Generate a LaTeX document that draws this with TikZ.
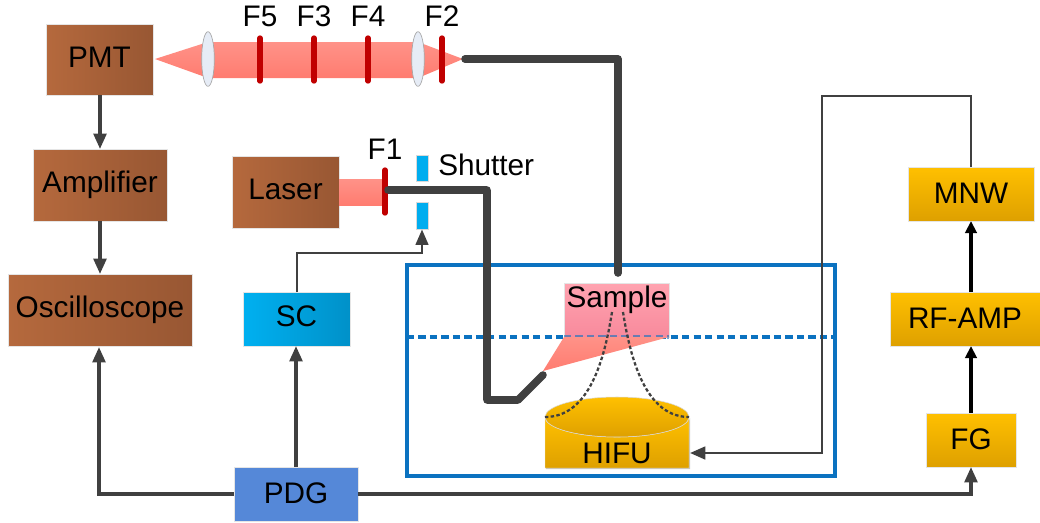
\documentclass[tikz,border=0pt]{standalone}
\usepackage{fontspec}
\setmainfont{Liberation Sans}
\usetikzlibrary{arrows.meta,shapes.geometric,shadows,calc}
\definecolor{wire}{HTML}{404040}
\definecolor{frame}{HTML}{0B72C0}
\definecolor{beam1}{HTML}{FF9288}
\definecolor{beam2}{HTML}{FF7C70}
\definecolor{filt}{HTML}{C00000}
\definecolor{brown1}{HTML}{B5693D}
\definecolor{brown2}{HTML}{985733}
\definecolor{gold1}{HTML}{FFC000}
\definecolor{gold2}{HTML}{DEA000}
\definecolor{sky1}{HTML}{00B0F0}
\definecolor{sky2}{HTML}{0091C9}
\definecolor{pdgblue}{HTML}{5588D8}
\definecolor{pink1}{HTML}{FFA3B0}
\definecolor{pink2}{HTML}{F88A9C}
\definecolor{lensc}{HTML}{E6ECF6}
\definecolor{shutc}{HTML}{00ADEF}
\newcommand{\pxbox}[7][]{%
  \pgfmathsetmacro{\pxw}{(#5-#3)*0.75}%
  \pgfmathsetmacro{\pxh}{(#6-#4)*0.75}%
  \pgfmathsetmacro{\pxcx}{(#3+#5)/2}%
  \pgfmathsetmacro{\pxcy}{(#4+#6)/2}%
  \node[#1,minimum width=\pxw pt,minimum height=\pxh pt] (#2) at (\pxcx,\pxcy) {#7};}
\tikzset{
  x=0.75pt,y=-0.75pt,
  softshadow/.style={drop shadow={shadow xshift=0.8pt,shadow yshift=-0.8pt,opacity=0.22,fill=black}},
  base/.style={inner sep=0pt,outer sep=0pt,font=\fontsize{22.3}{24}\selectfont,draw=black!10,line width=0.3pt,text height=16pt,softshadow},
  brownbox/.style={base,text depth=4.5pt,left color=brown1,right color=brown2},
  goldbox/.style={base,text depth=2.25pt,top color=gold1,bottom color=gold2},
  skybox/.style={base,text depth=4.5pt,left color=sky1,right color=sky2},
  bluebox/.style={base,text depth=2.25pt,fill=pdgblue},
  samplebox/.style={base,top color=pink1,bottom color=pink2},
  conn/.style={draw=wire,line width=2.5pt,-{Triangle[length=11.5pt,width=9.5pt]}},
  thin conn/.style={draw=wire,line width=1.6pt,-{Triangle[length=11.5pt,width=9.5pt]}},
  sig/.style={draw=black,line width=2.5pt,-{Triangle[length=9pt,width=8.5pt]}},
  fiber/.style={draw=wire,line width=5.7pt,line cap=round,line join=round},
  filter/.style={draw=filt,line width=4pt,line cap=round},
  lens/.style={ellipse,draw=black!35,line width=0.5pt,fill=lensc,minimum width=9.5pt,minimum height=41pt,inner sep=0pt},
  beam/.style={top color=beam1,bottom color=beam2,draw=none},
  lab/.style={font=\fontsize{22.3}{24}\selectfont,inner sep=0pt,text height=16pt,text depth=0pt},
  shut/.style={fill=shutc,draw=black!15,line width=0.3pt},
  focus/.style={draw=wire,line width=1.7pt,dash pattern=on 2.6pt off 1.7pt},
}
\begin{document}
\begin{tikzpicture}
\useasboundingbox (0,0) rectangle (1040,522);
% frame and water level
\draw[draw=frame,line width=2.9pt] (407,265) rectangle (835,476);
\coordinate (wl) at (407,337);
\coordinate (wr) at (835,337);
\draw[draw=frame,line width=2.7pt,dash pattern=on 5.4pt off 3.2pt] (wl) -- (wr);
% boxes
\pxbox[brownbox]{pmt}{46}{24}{153}{95}{PMT}
\pxbox[brownbox]{amp}{33}{149}{167}{221}{Amplifier}
\pxbox[brownbox]{osc}{8}{274}{192}{346}{Oscilloscope}
\pxbox[brownbox]{laser}{232}{156}{339}{228}{Laser}
\pxbox[skybox]{sc}{243}{292}{350}{346}{SC}
\pxbox[bluebox]{pdg}{234}{467}{358}{521}{PDG}
\pxbox[goldbox]{mnw}{908}{167}{1034}{221}{MNW}
\pxbox[goldbox]{rf}{890}{292}{1040}{346}{RF-AMP}
\pxbox[goldbox]{fg}{926}{413}{1016}{467}{FG}
% sample
\pxbox[samplebox]{sample}{564}{283}{669}{337}{}
\draw[draw=frame,opacity=0.6,line width=2.7pt,dash pattern=on 5.4pt off 3.2pt] (564,337) -- (669,337);
\node[lab] (sampletxt) at (617,296.5) {Sample};
% HIFU cylinder
\path[top color=gold1,bottom color=gold2,draw=black!10,line width=0.3pt,softshadow]
  (545,417) -- (545,468) -- (689,468) -- (689,417) arc[start angle=0,end angle=180,x radius=72,y radius=20] -- cycle;
\draw[top color=gold1,bottom color=gold2,draw=black!15,line width=0.4pt] (617,417) ellipse [x radius=72,y radius=20];
\node[lab] (hifu) at (617,452.5) {HIFU};
\coordinate (hifuR) at (690,453);
% excitation cone
\path[beam] (564,337) -- (669,337) -- (543,371) -- cycle;
% focus curves
\draw[focus] (612,312) .. controls (603,370) and (585,417) .. (545,417);
\draw[focus] (623,312) .. controls (632,370) and (650,417) .. (689,417);
% laser beam
\path[beam] (339,179) rectangle (385,205);
\draw[filter] (385,170) -- (385,213);
\node[lab] (f1) at (385,149) {F1};
% shutter
\draw[shut] (416,155) rectangle (428,181);
\draw[shut] (416,202) rectangle (428,229);
\coordinate (shutin) at (422,229.5);
\node[lab,anchor=west] (shuttxt) at (438,165) {Shutter};
% detection beam
\path[beam] (155,59) -- (208,42) -- (418,42) -- (463,59) -- (418,78) -- (208,78) -- cycle;
\node[lens] (l1) at (208,59) {};
\node[lens] (l2) at (418,59) {};
\draw[filter] (260,38) -- (260,81);
\draw[filter] (314,38) -- (314,81);
\draw[filter] (368,38) -- (368,81);
\draw[filter] (442,38) -- (442,81);
\node[lab] (f5) at (260,16) {F5};
\node[lab] (f3) at (314,16) {F3};
\node[lab] (f4) at (368,16) {F4};
\node[lab] (f2) at (442,16) {F2};
% fibers
\coordinate (fa) at (388,190);
\coordinate (fb) at (487,190);
\coordinate (fc) at (487,400);
\coordinate (fd) at (518,400);
\coordinate (fe) at (543,375);
\draw[fiber] (fa) -- (fb) -- (fc) -- (fd) -- (fe);
\coordinate (ga) at (465,59);
\coordinate (gb) at (618,59);
\coordinate (gc) at (618,273);
\draw[fiber] (ga) -- (gb) -- (gc);
% connectors
\draw[conn] (pmt.south -| amp.north) -- (amp.north);
\draw[conn] (amp.south) -- (osc.north);
\draw[conn] (pdg.north) -- (pdg.north |- sc.south);
\coordinate (sk) at (297,253);
\draw[thin conn] (sc.north -| sk) -- (sk) -| (shutin);
\coordinate (oscin) at (99,347);
\draw[conn] (pdg.west) -| (oscin);
\draw[conn] (pdg.east) -| (fg.south);
\draw[sig] (fg.north) -- (rf.south -| fg.north);
\draw[sig] (rf.north -| fg.north) -- (mnw.south -| fg.north);
\coordinate (ta) at (971,96);
\coordinate (tb) at (822,96);
\coordinate (tc) at (822,453);
\draw[conn,line width=2pt] (mnw.north -| ta) -- (ta) -- (tb) -- (tc) -- (hifuR);
\end{tikzpicture}
\end{document}
